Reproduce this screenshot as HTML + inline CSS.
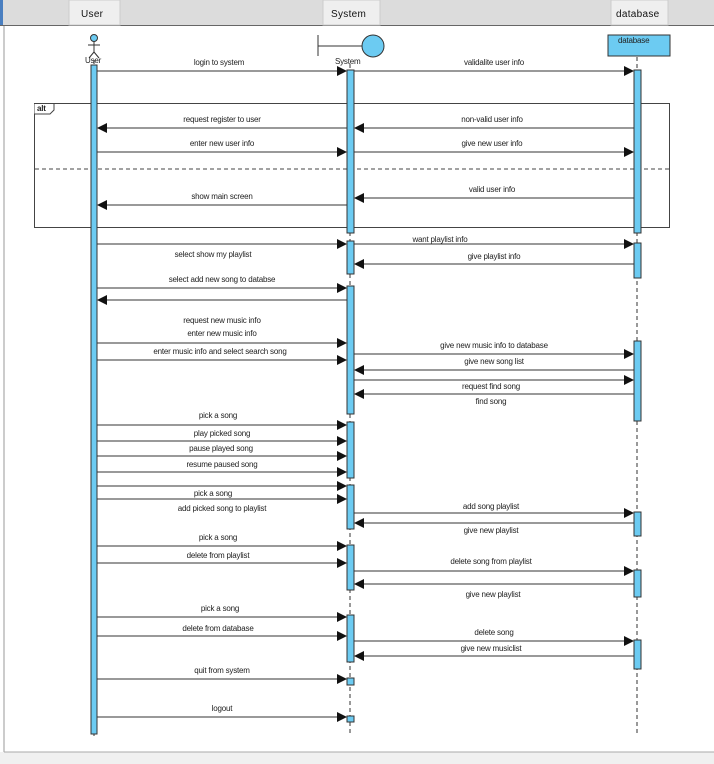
<!DOCTYPE html>
<html><head><meta charset="utf-8"><style>
html,body{margin:0;padding:0;background:#fff;}
svg{display:block;}
text{font-family:"Liberation Sans",sans-serif;font-size:8px;fill:#222;letter-spacing:-0.2px;}
.h{font-size:10px;fill:#111;letter-spacing:0.3px;}
.m{stroke:#333;stroke-width:1;}
.a{fill:#111;}
.act{fill:#6ccbf2;stroke:#333;stroke-width:1;}
.ll{stroke:#333;stroke-width:1;stroke-dasharray:4,3;}
</style></head><body>
<svg width="714" height="764" viewBox="0 0 714 764" xmlns="http://www.w3.org/2000/svg">
<rect x="0" y="0" width="714" height="764" fill="#fff"/>
<rect x="0" y="752" width="714" height="12" fill="#f0f0f0"/>
<line x1="4" y1="25" x2="4" y2="752" stroke="#999"/>
<line x1="4" y1="752" x2="714" y2="752" stroke="#aaa"/>
<rect x="0" y="0" width="714" height="25" fill="#dcdcdc"/>
<line x1="0" y1="25.5" x2="714" y2="25.5" stroke="#666"/>
<rect x="0" y="0" width="3" height="25" fill="#4a7fc0"/>
<rect x="69" y="0" width="51" height="25" fill="#efefef" stroke="#ccc"/>
<rect x="323" y="0" width="57" height="25" fill="#efefef" stroke="#ccc"/>
<rect x="611" y="0" width="57" height="25" fill="#efefef" stroke="#ccc"/>
<text class="h" x="81" y="17">User</text>
<text class="h" x="331" y="17">System</text>
<text class="h" x="616" y="17">database</text>

<!-- lifelines -->
<line class="ll" x1="94" y1="60" x2="94" y2="736"/>
<line class="ll" x1="350" y1="64" x2="350" y2="736"/>
<line class="ll" x1="637" y1="57" x2="637" y2="736"/>

<!-- actor -->
<circle cx="94" cy="38" r="3.5" fill="#6ccbf2" stroke="#333"/>
<line x1="94" y1="41" x2="94" y2="52" stroke="#333"/>
<line x1="88" y1="45" x2="100" y2="45" stroke="#333"/>
<line x1="94" y1="52" x2="89" y2="58" stroke="#333"/>
<line x1="94" y1="52" x2="99" y2="58" stroke="#333"/>
<text x="85" y="63">User</text>
<!-- boundary -->
<line x1="318" y1="35" x2="318" y2="56" stroke="#333"/>
<line x1="318" y1="46" x2="362" y2="46" stroke="#333"/>
<circle cx="373" cy="46" r="11" fill="#6ccbf2" stroke="#333"/>
<text x="335" y="64">System</text>
<!-- database -->
<rect x="608" y="35" width="62" height="21" fill="#6ccbf2" stroke="#333"/>
<text x="618" y="43">database</text>

<!-- alt frame -->
<rect x="34.5" y="103.5" width="635" height="124" fill="none" stroke="#444"/>
<path d="M34.5 103.5 H54 V110 L50 114 H34.5" fill="#fff" stroke="#444"/>
<text x="37" y="111" style="font-weight:bold">alt</text>
<line x1="35" y1="169" x2="669" y2="169" stroke="#444" stroke-dasharray="4,3"/>

<!-- activations -->
<rect class="act" x="91" y="65" width="6" height="669"/>
<rect class="act" x="347" y="70" width="7" height="163"/>
<rect class="act" x="634" y="70" width="7" height="163"/>
<rect class="act" x="347" y="241" width="7" height="33"/>
<rect class="act" x="634" y="243" width="7" height="35"/>
<rect class="act" x="347" y="286" width="7" height="128"/>
<rect class="act" x="634" y="341" width="7" height="80"/>
<rect class="act" x="347" y="422" width="7" height="56"/>
<rect class="act" x="347" y="485" width="7" height="44"/>
<rect class="act" x="634" y="512" width="7" height="24"/>
<rect class="act" x="347" y="545" width="7" height="45"/>
<rect class="act" x="634" y="570" width="7" height="27"/>
<rect class="act" x="347" y="615" width="7" height="47"/>
<rect class="act" x="634" y="640" width="7" height="29"/>
<rect class="act" x="347" y="678" width="7" height="7"/>
<rect class="act" x="347" y="716" width="7" height="6"/>

<!-- U->S arrows (right) -->
<g class="m">
<line x1="97" y1="71" x2="340" y2="71"/>
<line x1="97" y1="152" x2="340" y2="152"/>
<line x1="97" y1="244" x2="340" y2="244"/>
<line x1="97" y1="288" x2="340" y2="288"/>
<line x1="97" y1="343" x2="340" y2="343"/>
<line x1="97" y1="360" x2="340" y2="360"/>
<line x1="97" y1="425" x2="340" y2="425"/>
<line x1="97" y1="441" x2="340" y2="441"/>
<line x1="97" y1="456" x2="340" y2="456"/>
<line x1="97" y1="472" x2="340" y2="472"/>
<line x1="97" y1="486" x2="340" y2="486"/>
<line x1="97" y1="499" x2="340" y2="499"/>
<line x1="97" y1="546" x2="340" y2="546"/>
<line x1="97" y1="563" x2="340" y2="563"/>
<line x1="97" y1="617" x2="340" y2="617"/>
<line x1="97" y1="636" x2="340" y2="636"/>
<line x1="97" y1="679" x2="340" y2="679"/>
<line x1="97" y1="717" x2="340" y2="717"/>
<!-- S->DB -->
<line x1="354" y1="71" x2="627" y2="71"/>
<line x1="354" y1="152" x2="627" y2="152"/>
<line x1="354" y1="244" x2="627" y2="244"/>
<line x1="354" y1="354" x2="627" y2="354"/>
<line x1="354" y1="380" x2="627" y2="380"/>
<line x1="354" y1="513" x2="627" y2="513"/>
<line x1="354" y1="571" x2="627" y2="571"/>
<line x1="354" y1="641" x2="627" y2="641"/>
<!-- S->U left -->
<line x1="104" y1="128" x2="347" y2="128"/>
<line x1="104" y1="205" x2="347" y2="205"/>
<line x1="104" y1="300" x2="347" y2="300"/>
<!-- DB->S left -->
<line x1="361" y1="128" x2="634" y2="128"/>
<line x1="361" y1="198" x2="634" y2="198"/>
<line x1="361" y1="264" x2="634" y2="264"/>
<line x1="361" y1="370" x2="634" y2="370"/>
<line x1="361" y1="394" x2="634" y2="394"/>
<line x1="361" y1="523" x2="634" y2="523"/>
<line x1="361" y1="584" x2="634" y2="584"/>
<line x1="361" y1="656" x2="634" y2="656"/>
</g>
<g class="a">
<path d="M337 66L347 71L337 76Z"/><path d="M337 147L347 152L337 157Z"/><path d="M337 239L347 244L337 249Z"/>
<path d="M337 283L347 288L337 293Z"/><path d="M337 338L347 343L337 348Z"/><path d="M337 355L347 360L337 365Z"/>
<path d="M337 420L347 425L337 430Z"/><path d="M337 436L347 441L337 446Z"/><path d="M337 451L347 456L337 461Z"/>
<path d="M337 467L347 472L337 477Z"/><path d="M337 481L347 486L337 491Z"/><path d="M337 494L347 499L337 504Z"/>
<path d="M337 541L347 546L337 551Z"/><path d="M337 558L347 563L337 568Z"/><path d="M337 612L347 617L337 622Z"/>
<path d="M337 631L347 636L337 641Z"/><path d="M337 674L347 679L337 684Z"/><path d="M337 712L347 717L337 722Z"/>
<path d="M624 66L634 71L624 76Z"/><path d="M624 147L634 152L624 157Z"/><path d="M624 239L634 244L624 249Z"/>
<path d="M624 349L634 354L624 359Z"/><path d="M624 375L634 380L624 385Z"/><path d="M624 508L634 513L624 518Z"/>
<path d="M624 566L634 571L624 576Z"/><path d="M624 636L634 641L624 646Z"/>
<path d="M107 123L97 128L107 133Z"/><path d="M107 200L97 205L107 210Z"/><path d="M107 295L97 300L107 305Z"/>
<path d="M364 123L354 128L364 133Z"/><path d="M364 193L354 198L364 203Z"/><path d="M364 259L354 264L364 269Z"/>
<path d="M364 365L354 370L364 375Z"/><path d="M364 389L354 394L364 399Z"/><path d="M364 518L354 523L364 528Z"/>
<path d="M364 579L354 584L364 589Z"/><path d="M364 651L354 656L364 661Z"/>
</g>

<g text-anchor="middle">
<text x="219" y="65">login to system</text>
<text x="494" y="65">validalite user info</text>
<text x="222" y="122">request register to user</text>
<text x="492" y="122">non-valid user info</text>
<text x="222" y="146">enter new user info</text>
<text x="492" y="146">give new user info</text>
<text x="492" y="192">valid user info</text>
<text x="222" y="199">show main screen</text>
<text x="440" y="242">want playlist info</text>
<text x="213" y="257">select show my playlist</text>
<text x="494" y="259">give playlist info</text>
<text x="222" y="282">select add new song to databse</text>
<text x="222" y="323">request new music info</text>
<text x="222" y="336">enter new music info</text>
<text x="220" y="354">enter music info and select search song</text>
<text x="494" y="348">give new music info to database</text>
<text x="494" y="364">give new song list</text>
<text x="491" y="389">request find song</text>
<text x="491" y="404">find song</text>
<text x="218" y="418">pick a song</text>
<text x="222" y="436">play picked song</text>
<text x="221" y="451">pause played song</text>
<text x="222" y="467">resume paused song</text>
<text x="213" y="496">pick a song</text>
<text x="222" y="511">add picked song to playlist</text>
<text x="491" y="509">add song playlist</text>
<text x="491" y="533">give new playlist</text>
<text x="218" y="540">pick a song</text>
<text x="218" y="558">delete from playlist</text>
<text x="491" y="564">delete song from playlist</text>
<text x="493" y="597">give new playlist</text>
<text x="220" y="611">pick a song</text>
<text x="218" y="631">delete from database</text>
<text x="494" y="635">delete song</text>
<text x="491" y="651">give new musiclist</text>
<text x="222" y="673">quit from system</text>
<text x="222" y="711">logout</text>
</g>
</svg>
</body></html>
